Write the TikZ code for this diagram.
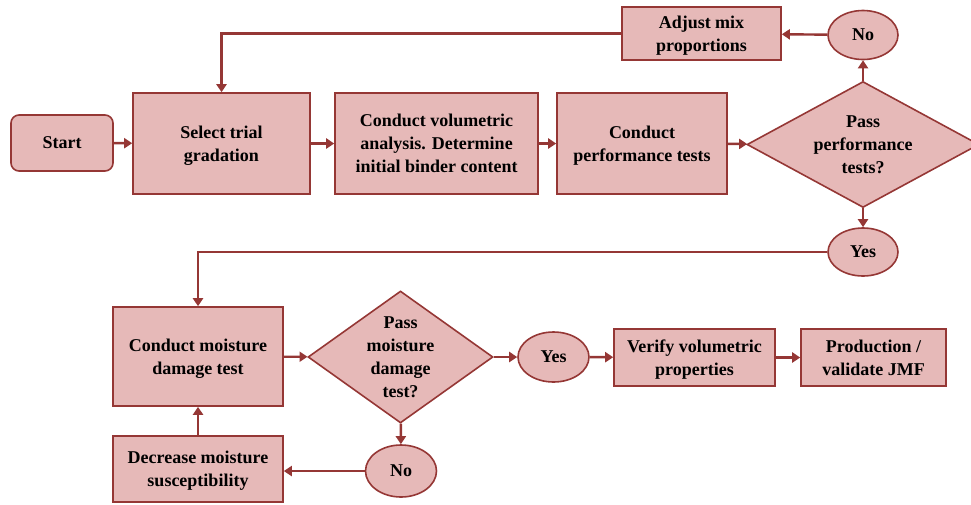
\documentclass[tikz,border=0pt]{standalone}
\usepackage{fontspec}
\setmainfont{Liberation Serif}
\usetikzlibrary{shapes.geometric,arrows.meta}
\definecolor{boxfill}{HTML}{E6B9B8}
\definecolor{boxline}{HTML}{953735}
\tikzset{
  base/.style={draw=boxline, fill=boxfill, line width=1.6pt, inner sep=0pt,
    align=center, text depth=0pt, font=\fontsize{18}{23}\selectfont\bfseries},
  procbox/.style={base, rectangle},
  startbox/.style={base, rectangle, rounded corners=8pt},
  answer/.style={base, ellipse},
  flow/.style={draw=boxline, line width=2.4pt,
    -{Triangle[length=8pt,width=10pt]}}
}
\begin{document}
\begin{tikzpicture}[x=1pt,y=-1pt]
\useasboundingbox (0,0) rectangle (971,504);
\begin{scope}
\clip (0,0) rectangle (971,504);
% top row
\node[startbox, minimum width=102pt, minimum height=56pt] (start) at (62,143) {Start};
\node[procbox, minimum width=177pt, minimum height=101pt] (select) at (221.5,143.5) {Select trial\\gradation};
\node[procbox, minimum width=203pt, minimum height=101pt] (volum) at (436.5,143.5) {Conduct volumetric\\analysis. Determine\\initial binder content};
\node[procbox, minimum width=170pt, minimum height=101pt] (perf) at (642,143.5) {Conduct\\performance tests};
\node[base, minimum width=232pt, minimum height=126pt, shape=diamond, aspect=1.84] (passperf) at (863,144.5) {Pass\\performance\\tests?};
\node[answer, minimum width=70pt, minimum height=49pt] (no1) at (863,35) {No};
\node[procbox, minimum width=159pt, minimum height=53pt] (adjust) at (701.5,33.5) {Adjust mix\\proportions};
\node[answer, minimum width=70pt, minimum height=48pt] (yes1) at (863,252) {Yes};
% bottom row
\node[procbox, minimum width=170pt, minimum height=99pt] (moist) at (198,356.5) {Conduct moisture\\damage test};
\node[base, minimum width=185pt, minimum height=132pt, shape=diamond, aspect=1.4] (passmoist) at (400.5,357) {Pass\\moisture\\damage\\test?};
\node[answer, minimum width=71pt, minimum height=50pt] (yes2) at (553.5,357) {Yes};
\node[procbox, minimum width=161pt, minimum height=57pt] (verify) at (694.5,357.5) {Verify volumetric\\properties};
\node[procbox, minimum width=145pt, minimum height=57pt] (prod) at (873.5,357.5) {Production /\\validate JMF};
\node[answer, minimum width=71pt, minimum height=52pt] (no2) at (401,471) {No};
\node[procbox, minimum width=170pt, minimum height=66pt] (decr) at (198,469) {Decrease moisture\\susceptibility};
% connectors
\draw[flow] (start) -- (select);
\draw[flow] (select) -- (volum);
\draw[flow] (volum) -- (perf);
\draw[flow] (perf) -- (passperf);
\draw[flow] (passperf) -- (no1);
\draw[flow] (no1) -- (adjust);
\draw[flow] (adjust.west) -| (select.north);
\draw[flow] (passperf) -- (yes1);
\draw[flow] (yes1.west) -| (moist.north);
\draw[flow] (moist) -- (passmoist);
\draw[flow] (passmoist) -- (yes2);
\draw[flow] (yes2) -- (verify);
\draw[flow] (verify) -- (prod);
\draw[flow] (passmoist) -- (no2);
\draw[flow] (no2.west) -- (no2.west -| decr.east);
\draw[flow] (decr) -- (moist);
\end{scope}
\end{tikzpicture}
\end{document}
